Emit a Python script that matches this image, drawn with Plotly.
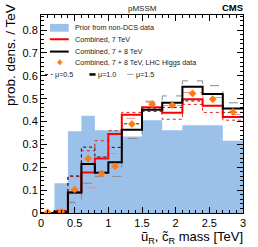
import plotly.graph_objects as go

# ---- data ----
bin_edges = [0.0, 0.2, 0.4, 0.6, 0.8, 1.0, 1.2, 1.5, 1.8, 2.1, 2.4, 2.7, 3.0]
prior = [0.0, 0.13, 0.358, 0.425, 0.362, 0.362, 0.335, 0.406, 0.362, 0.384, 0.384, 0.316]
comb7 = [0.0, 0.008, 0.09, 0.177, 0.238, 0.346, 0.43, 0.462, 0.438, 0.498, 0.469, 0.42]
comb78 = [0.0, 0.003, 0.09, 0.214, 0.176, 0.222, 0.364, 0.452, 0.482, 0.552, 0.52, 0.457]
comb78_mu05 = [0.0, 0.01, 0.162, 0.288, 0.245, 0.287, 0.39, 0.445, 0.462, 0.49, 0.469, 0.44]
comb78_mu15 = [0.0, 0.0, 0.045, 0.13, 0.16, 0.16, 0.326, 0.485, 0.512, 0.578, 0.557, 0.482]
comb7_mu05 = [0.0, 0.012, 0.16, 0.272, 0.316, 0.36, 0.44, 0.455, 0.41, 0.475, 0.44, 0.406]
comb7_mu15 = [0.0, 0.0, 0.05, 0.11, 0.165, 0.26, 0.414, 0.489, 0.47, 0.527, 0.505, 0.431]
higgs = [0.003, 0.005, 0.103, 0.238, 0.172, 0.205, 0.389, 0.476, 0.472, 0.523, 0.498, 0.442]
higgs_err = [0.008, 0.008, 0.01, 0.012, 0.01, 0.01, 0.012, 0.012, 0.012, 0.012, 0.012, 0.012]

x_ticks = [0, 0.5, 1, 1.5, 2, 2.5, 3]

FONT = "Liberation Sans, Arial, sans-serif"
BLUE = "#9bc0ea"
ORANGE = "#ff7a10"


def step(vals):
    return list(bin_edges), list(vals) + [vals[-1]]


centers = [(bin_edges[i] + bin_edges[i + 1]) / 2 for i in range(len(bin_edges) - 1)]

fig = go.Figure()

xs, ys = step(prior)
fig.add_trace(go.Scatter(x=xs, y=ys, mode="lines", line=dict(shape="hv", width=0),
                         fill="tozeroy", fillcolor=BLUE, showlegend=False, hoverinfo="skip"))

for vals, col, dash, w in [
    (comb7_mu15, "#f08c8c", "dash", 1),
    (comb78_mu15, "#8a8a8a", "dash", 1),
    (comb7_mu05, "#e02020", "dot", 1),
    (comb78_mu05, "#2a1010", "dot", 1),
]:
    xs, ys = step(vals)
    fig.add_trace(go.Scatter(x=xs, y=ys, mode="lines",
                             line=dict(shape="hv", color=col, dash=dash, width=w),
                             showlegend=False))

xs, ys = step(comb7)
fig.add_trace(go.Scatter(x=xs, y=ys, mode="lines", line=dict(shape="hv", color="#ff0000", width=2),
                         showlegend=False))
xs, ys = step(comb78)
fig.add_trace(go.Scatter(x=xs, y=ys, mode="lines", line=dict(shape="hv", color="black", width=2),
                         showlegend=False))

fig.add_trace(go.Scatter(x=centers, y=higgs, mode="markers",
                         marker=dict(symbol="diamond", size=6, color=ORANGE),
                         error_y=dict(type="data", array=higgs_err, color=ORANGE, thickness=1, width=0),
                         showlegend=False))

# ---- legend (drawn manually, ROOT style) ----
shapes = []
ann = []
tx = 0.475
rows = [0.810, 0.760, 0.706, 0.659, 0.606]
labels = ["Prior from non-DCS data", "Combined, 7 TeV", "Combined, 7 + 8 TeV",
          "Combined, 7 + 8 TeV, LHC Higgs data"]
LEGSIZE = 7.2
shapes.append(dict(type="rect", xref="x", yref="y", x0=0.132, x1=0.412, y0=0.793, y1=0.827,
                   fillcolor=BLUE, line=dict(width=0)))
shapes.append(dict(type="line", xref="x", yref="y", x0=0.132, x1=0.412, y0=rows[1], y1=rows[1],
                   line=dict(color="#ff0000", width=2)))
shapes.append(dict(type="line", xref="x", yref="y", x0=0.132, x1=0.412, y0=rows[2], y1=rows[2],
                   line=dict(color="black", width=2)))
dx, dy = 0.035, 0.012
cx, cy = 0.279, rows[3]
shapes.append(dict(type="path", xref="x", yref="y",
                   path=f"M {cx},{cy+dy} L {cx+dx},{cy} L {cx},{cy-dy} L {cx-dx},{cy} Z",
                   fillcolor=ORANGE, line=dict(color=ORANGE, width=0.5)))
for lab, r in zip(labels, rows[:4]):
    ann.append(dict(x=tx, y=r, xref="x", yref="y", text=lab, showarrow=False,
                    xanchor="left", yanchor="middle", font=dict(family=FONT, size=LEGSIZE, color="#222")))
mu_items = [(0.06, 0.17, "dot", 1, "#222", "μ=0.5"),
            (0.72, 0.81, "solid", 2.5, "black", "μ=1.0"),
            (1.28, 1.37, "solid", 0.8, "#888", "μ=1.5")]
for x0, x1, d, w, c, t in mu_items:
    shapes.append(dict(type="line", xref="x", yref="y", x0=x0, x1=x1, y0=rows[4], y1=rows[4],
                       line=dict(color=c, width=w, dash=d)))
    ann.append(dict(x=x1 + 0.01, y=rows[4], xref="x", yref="y", text=t, showarrow=False,
                    xanchor="left", yanchor="middle", font=dict(family=FONT, size=LEGSIZE, color="#222")))

ann.append(dict(x=0.5, y=1.0, xref="paper", yref="paper", text="pMSSM", showarrow=False,
                xanchor="center", yanchor="bottom", yshift=0, font=dict(family=FONT, size=8, color="#222")))
ann.append(dict(x=1.0, y=1.0, xref="paper", yref="paper", text="<b>CMS</b>", showarrow=False,
                xanchor="right", yanchor="bottom", xshift=2, font=dict(family=FONT, size=9.5, color="black")))
ann.append(dict(x=1.0, y=0, xref="paper", yref="paper", text="ũ<sub>R</sub>, c\u0303<sub>R</sub> mass [TeV]",
                showarrow=False, xanchor="right", yanchor="top", yshift=-14, xshift=2,
                font=dict(family=FONT, size=13, color="black")))
ann.append(dict(x=0, y=1.0, xref="paper", yref="paper", text="prob. dens. / TeV", textangle=-90,
                showarrow=False, xanchor="center", yanchor="top", xshift=-31, yshift=13,
                font=dict(family=FONT, size=13.5, color="black")))

axis_common = dict(showgrid=False, zeroline=False, showline=True, linecolor="black", linewidth=1,
                   mirror="allticks", ticks="inside", tickcolor="black", tickwidth=1,
                   tickfont=dict(family=FONT, size=11, color="black"))
fig.update_layout(
    width=258, height=247,
    margin=dict(l=41, r=13, t=15, b=34),
    plot_bgcolor="white", paper_bgcolor="white",
    xaxis=dict(range=[0, 3], tickvals=x_ticks, ticktext=[str(v) for v in x_ticks], ticklen=6,
               minor=dict(dtick=0.1, ticklen=3, ticks="inside", tickcolor="black"), **axis_common),
    yaxis=dict(range=[0, 0.866], dtick=0.1, ticklen=6,
               minor=dict(dtick=0.02, ticklen=3, ticks="inside", tickcolor="black"), **axis_common),
    shapes=shapes, annotations=ann, showlegend=False,
)
fig.write_html("out.html", config={"displayModeBar": False},
               post_script="document.body.style.margin='0';document.body.style.padding='0';")
